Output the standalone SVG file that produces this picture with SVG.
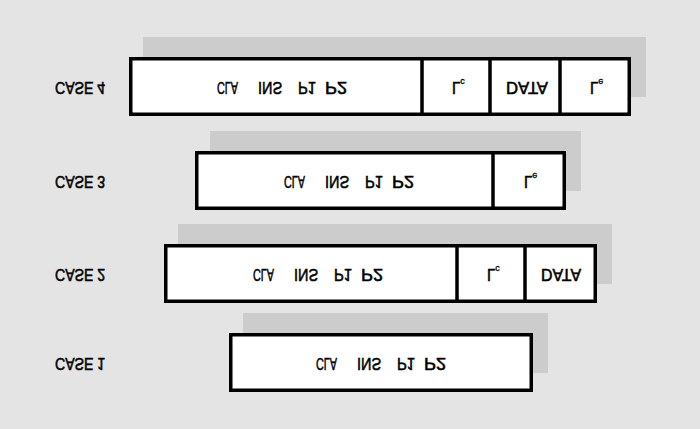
<svg xmlns="http://www.w3.org/2000/svg" width="700" height="429" viewBox="0 0 700 429">
<style>
.bg{fill:#e4e4e4}
.sh{fill:#cccccc}
.box{fill:#ffffff;stroke:#000000;stroke-width:3.5}
.div{stroke:#000000;stroke-width:3.5}
.t{font-family:"Liberation Sans",Arial,sans-serif;font-size:15px;font-weight:normal;fill:#000000;stroke:#000000;stroke-width:0.5}
.sub{font-size:9px;stroke-width:0.3}
</style>
<rect class="bg" x="0" y="0" width="700" height="429"/>
<g id="connectors"/>
<g id="case4">
<rect class="sh" x="143" y="37" width="503" height="60"/>
<rect class="box" x="130.75" y="58.75" width="498.5" height="55.5"/>
<line class="div" x1="422" y1="58" x2="422" y2="115"/>
<line class="div" x1="490" y1="58" x2="490" y2="115"/>
<line class="div" x1="560" y1="58" x2="560" y2="115"/>
<g transform="translate(0,82) scale(1,-1.1)">
<text class="t" x="55" y="0" textLength="50" lengthAdjust="spacingAndGlyphs">CASE 4</text>
<text class="t" y="0"><tspan x="217" textLength="21" lengthAdjust="spacingAndGlyphs">CLA</tspan><tspan x="258" textLength="24" lengthAdjust="spacingAndGlyphs">INS</tspan><tspan x="298" textLength="18" lengthAdjust="spacingAndGlyphs">P1</tspan><tspan x="325" textLength="22" lengthAdjust="spacingAndGlyphs">P2</tspan></text>
<text class="t" x="452" y="0">L<tspan class="sub" dy="3">c</tspan></text>
<text class="t" x="506" y="0" textLength="42" lengthAdjust="spacingAndGlyphs">DATA</text>
<text class="t" x="590" y="0">L<tspan class="sub" dy="3">e</tspan></text>
</g>
</g>
<g id="case3">
<rect class="sh" x="210" y="131" width="371" height="60"/>
<rect class="box" x="196.75" y="152.75" width="367.5" height="55.5"/>
<line class="div" x1="493" y1="152" x2="493" y2="209"/>
<g transform="translate(0,176) scale(1,-1.1)">
<text class="t" x="55" y="0" textLength="50" lengthAdjust="spacingAndGlyphs">CASE 3</text>
<text class="t" y="0"><tspan x="284" textLength="21" lengthAdjust="spacingAndGlyphs">CLA</tspan><tspan x="325" textLength="24" lengthAdjust="spacingAndGlyphs">INS</tspan><tspan x="365" textLength="18" lengthAdjust="spacingAndGlyphs">P1</tspan><tspan x="392" textLength="22" lengthAdjust="spacingAndGlyphs">P2</tspan></text>
<text class="t" x="524" y="0">L<tspan class="sub" dy="3">e</tspan></text>
</g>
</g>
<g id="case2">
<rect class="sh" x="178" y="224" width="434" height="60"/>
<rect class="box" x="165.75" y="245.75" width="429.5" height="55.5"/>
<line class="div" x1="457" y1="245" x2="457" y2="302"/>
<line class="div" x1="525" y1="245" x2="525" y2="302"/>
<g transform="translate(0,269) scale(1,-1.1)">
<text class="t" x="55" y="0" textLength="50" lengthAdjust="spacingAndGlyphs">CASE 2</text>
<text class="t" y="0"><tspan x="253" textLength="21" lengthAdjust="spacingAndGlyphs">CLA</tspan><tspan x="294" textLength="24" lengthAdjust="spacingAndGlyphs">INS</tspan><tspan x="334" textLength="18" lengthAdjust="spacingAndGlyphs">P1</tspan><tspan x="361" textLength="22" lengthAdjust="spacingAndGlyphs">P2</tspan></text>
<text class="t" x="487" y="0">L<tspan class="sub" dy="3">c</tspan></text>
<text class="t" x="541" y="0" textLength="40" lengthAdjust="spacingAndGlyphs">DATA</text>
</g>
</g>
<g id="case1">
<rect class="sh" x="243" y="313" width="305" height="60"/>
<rect class="box" x="230.75" y="334.75" width="300.5" height="55.5"/>
<g transform="translate(0,358) scale(1,-1.1)">
<text class="t" x="55" y="0" textLength="50" lengthAdjust="spacingAndGlyphs">CASE 1</text>
<text class="t" y="0"><tspan x="316" textLength="21" lengthAdjust="spacingAndGlyphs">CLA</tspan><tspan x="357" textLength="24" lengthAdjust="spacingAndGlyphs">INS</tspan><tspan x="397" textLength="18" lengthAdjust="spacingAndGlyphs">P1</tspan><tspan x="424" textLength="22" lengthAdjust="spacingAndGlyphs">P2</tspan></text>
</g>
</g>
</svg>
